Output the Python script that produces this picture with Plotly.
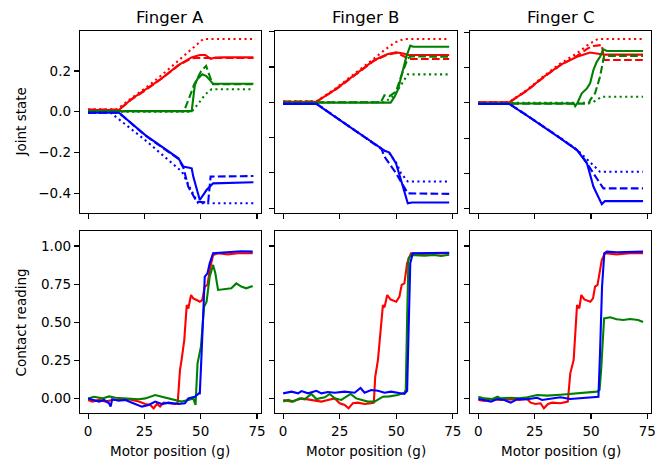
import plotly.graph_objects as go

# ---------------- Data ----------------
X_TICKS = [0, 25, 50, 75]
Y_TICKS_JOINT_A = [-0.4, -0.2, 0.0, 0.2]
Y_TICKS_JOINT_BC = [-0.6, -0.4, -0.2, 0.0, 0.2, 0.4]
Y_TICKS_CONTACT = [0.0, 0.25, 0.5, 0.75, 1.0]
TITLES = ["Finger A", "Finger B", "Finger C"]

# ---- Joint state, Finger A ----
A_red_solid = ([0, 13.7, 19, 25.4, 32.7, 40.1, 45.9, 49.6, 52, 54.5, 56.5, 60, 73.4],
               [0.008, 0.008, 0.06, 0.107, 0.164, 0.229, 0.267, 0.279, 0.279, 0.26, 0.266, 0.267, 0.267])
A_red_dashed = ([0, 13.7, 19, 25.4, 32.7, 40.1, 45.9, 48, 73.4],
                [0.01, 0.01, 0.058, 0.105, 0.163, 0.228, 0.262, 0.264, 0.264])
A_red_dotted = ([0, 13, 19, 25.4, 32.7, 40.1, 46.6, 51.1, 73.4],
                [0.012, 0.012, 0.065, 0.115, 0.18, 0.25, 0.31, 0.357, 0.357])
A_green_solid = ([0, 46, 47.4, 48.5, 50.7, 52.5, 55.5, 73.4],
                 [0.003, 0.003, 0.131, 0.16, 0.184, 0.175, 0.137, 0.137])
A_green_dashed = ([0, 42.6, 45.1, 47, 50.2, 52.4, 54.6, 55.5, 73.4],
                  [0.003, 0.003, 0.074, 0.131, 0.2, 0.225, 0.156, 0.135, 0.135])
A_green_dotted = ([0, 46, 49, 52, 54.8, 73.4],
                  [0.0, 0.0, 0.04, 0.085, 0.11, 0.11])
A_blue_solid = ([0, 13.7, 25.4, 32.7, 40.1, 42.3, 46, 46.7, 49.6, 52.6, 55.5, 73.4],
                [-0.005, -0.005, -0.115, -0.172, -0.229, -0.27, -0.278, -0.319, -0.434, -0.385, -0.352, -0.347])
A_blue_dashed = ([0, 13.7, 25.4, 32.7, 40.1, 42.3, 44.5, 48.2, 53.3, 54.4, 73.4],
                 [-0.005, -0.005, -0.117, -0.174, -0.232, -0.275, -0.369, -0.442, -0.447, -0.319, -0.316])
A_blue_dotted = ([0, 10.1, 25.4, 41.7, 45.5, 48.9, 73.4],
                 [-0.006, -0.006, -0.14, -0.295, -0.38, -0.45, -0.45])

# ---- Joint state, Finger B ----
B_red_solid = ([0, 14.7, 22.8, 31.6, 40.4, 46, 49.9, 53.6, 55.1, 73.4],
               [0.003, 0.003, 0.07, 0.155, 0.24, 0.272, 0.283, 0.275, 0.268, 0.268])
B_red_dashed = ([0, 14.7, 22.8, 31.6, 40.4, 46, 49.9, 53.6, 55.1, 73.4],
                [0.004, 0.004, 0.068, 0.152, 0.237, 0.27, 0.28, 0.26, 0.245, 0.245])
B_red_dotted = ([0, 14.7, 22.8, 31.6, 40.4, 44.8, 49.5, 53.6, 73.4],
                [0.005, 0.005, 0.075, 0.16, 0.25, 0.296, 0.34, 0.359, 0.359])
B_green_solid = ([0, 47.5, 49.2, 50.7, 52.5, 54.5, 56.2, 57.5, 73.4],
                 [-0.002, -0.002, 0.03, 0.07, 0.16, 0.26, 0.321, 0.315, 0.315])
B_green_dashed = ([0, 43.2, 44.8, 47, 49.9, 52.1, 55.1, 56.5, 73.4],
                  [0.0, 0.0, 0.04, 0.035, 0.06, 0.146, 0.249, 0.26, 0.258])
B_green_dotted = ([0, 44.8, 49.2, 52.5, 55.1, 73.4],
                  [0.0, 0.0, 0.04, 0.11, 0.158, 0.158])
B_blue_solid = ([0, 14.7, 22.8, 30.2, 37.5, 44.8, 47, 49.9, 52.1, 55.1, 57, 73.4],
                [-0.009, -0.009, -0.081, -0.147, -0.214, -0.274, -0.285, -0.346, -0.44, -0.572, -0.568, -0.568])
B_blue_dashed = ([0, 14.7, 22.8, 30.2, 37.5, 43.5, 44.8, 49.9, 55.1, 73.4],
                 [-0.008, -0.008, -0.08, -0.146, -0.213, -0.265, -0.308, -0.402, -0.516, -0.519])
B_blue_dotted = ([0, 14.7, 22.8, 30.2, 37.5, 44.8, 47, 49.9, 52.1, 55.1, 73.4],
                 [-0.008, -0.008, -0.08, -0.146, -0.213, -0.274, -0.29, -0.34, -0.402, -0.449, -0.449])

# ---- Joint state, Finger C ----
C_red_solid = ([0, 13.7, 21.8, 29.1, 36.4, 43.8, 49.6, 54, 56, 73.1],
               [0.002, 0.002, 0.072, 0.147, 0.214, 0.26, 0.284, 0.274, 0.272, 0.272])
C_red_dashed = ([0, 13.7, 21.8, 29.1, 36.4, 43.8, 48.9, 51.1, 54.8, 55.8, 73.1],
                [0.003, 0.003, 0.07, 0.145, 0.212, 0.265, 0.31, 0.321, 0.327, 0.242, 0.242])
C_red_dotted = ([0, 13.7, 21.8, 29.1, 36.4, 43.8, 48.9, 53.1, 73.1],
                [0.004, 0.004, 0.075, 0.152, 0.222, 0.28, 0.33, 0.361, 0.361])
C_green_solid = ([0, 42.4, 43, 44, 45.9, 48.2, 49.6, 51.1, 52.5, 54, 55.5, 57, 73.1],
                 [-0.004, -0.004, -0.019, 0.0, 0.053, 0.081, 0.11, 0.186, 0.23, 0.26, 0.302, 0.293, 0.293])
C_green_dashed = ([0, 48.9, 49.6, 51.8, 54, 55.8, 73.1],
                  [-0.005, -0.005, 0.015, 0.053, 0.147, 0.265, 0.265])
C_green_dotted = ([0, 50.5, 54.8, 73.1],
                  [0.0, 0.0, 0.034, 0.034])
C_blue_solid = ([0, 13.7, 21.8, 29.1, 36.4, 43.8, 48.2, 51.1, 54.8, 56.2, 73.1],
                [-0.007, -0.007, -0.075, -0.136, -0.202, -0.268, -0.343, -0.476, -0.574, -0.556, -0.557])
C_blue_dashed = ([0, 13.7, 21.8, 29.1, 36.4, 43.8, 46, 51.1, 55.5, 73.1],
                 [-0.006, -0.006, -0.074, -0.135, -0.2, -0.268, -0.3, -0.4, -0.485, -0.485])
C_blue_dotted = ([0, 13.7, 21.8, 29.1, 36.4, 43.8, 46.5, 51.1, 54, 73.1],
                 [-0.006, -0.006, -0.074, -0.135, -0.2, -0.266, -0.3, -0.353, -0.391, -0.391])

# ---- Contact reading ----
A_contact_red = ([0, 1.9, 4.8, 7.8, 10.7, 13.6, 18.1, 19.5, 22.5, 25.4, 27.6, 29.1, 30.5, 32, 33.5, 35.7, 38.6, 39.8,
                  40.8, 41.5, 42.7, 43.8, 44.5, 45.7, 46.7, 48.2, 49.6, 50.7, 51.8, 53, 54, 55.5, 57.7, 62.1, 66.5, 73.1],
                 [-0.008, -0.019, -0.008, -0.019, -0.008, -0.004, -0.002, -0.008, -0.019, -0.035, -0.041, -0.063, -0.035,
                  -0.052, -0.026, -0.03, -0.035, -0.026, 0.188, 0.253, 0.384, 0.613, 0.591, 0.679, 0.657, 0.646, 0.635,
                  0.646, 0.734, 0.745, 0.843, 0.941, 0.952, 0.945, 0.952, 0.952])
A_contact_green = ([0, 2.6, 6.3, 9.3, 12.2, 15.1, 19.5, 22.5, 25.4, 27.6, 29.8, 32.7, 35.7, 38.6, 41.5, 44.5, 46.7, 47.7,
                    48.6, 50.1, 51.5, 52.6, 54, 55.5, 56.5, 57.7, 60.6, 63.6, 65.8, 68, 70.2, 73.1],
                   [0.002, 0.013, 0.002, 0.015, 0.006, 0.002, -0.002, -0.004, 0.002, 0.015, 0.024, 0.013, 0.002, -0.008,
                    -0.019, -0.008, 0.002, -0.041, 0.232, 0.341, 0.602, 0.635, 0.799, 0.876, 0.821, 0.712, 0.716, 0.723,
                    0.755, 0.734, 0.723, 0.738])
A_contact_blue = ([0, 1.9, 4.8, 7.1, 9.3, 10, 10.7, 13.6, 16.6, 19.5, 23.9, 26.9, 29.8, 32.7, 35.7, 40.1, 43, 44.5, 47.4,
                   49.2, 49.6, 50.4, 51.3, 51.8, 53, 54, 55.5, 59.1, 63.6, 68, 73.1],
                  [0.002, -0.008, -0.019, -0.008, -0.03, -0.052, -0.004, -0.013, -0.008, -0.026, -0.052, -0.041, -0.019,
                   -0.035, -0.026, -0.035, -0.03, 0.002, 0.013, 0.035, 0.035, 0.297, 0.58, 0.799, 0.821, 0.887, 0.952,
                   0.956, 0.961, 0.965, 0.963])

B_contact_red = ([0, 3.7, 8.1, 12.5, 16.9, 19.8, 22.8, 25, 27.2, 28.9, 30.8, 33, 36, 38.9, 40.1, 40.7, 41.9, 44.1, 44.8,
                  46, 47.4, 50, 51.4, 52.4, 53.6, 54.8, 56.5, 60.9, 66.8, 73.4],
                 [-0.008, -0.019, 0.002, -0.008, -0.019, -0.008, 0.002, -0.03, -0.041, -0.063, -0.03, -0.026, -0.035,
                  -0.03, -0.026, 0.144, 0.253, 0.613, 0.598, 0.679, 0.65, 0.635, 0.668, 0.745, 0.755, 0.887, 0.952,
                  0.948, 0.952, 0.952])
B_contact_green = ([0, 2.2, 4.4, 7.3, 9.5, 12.5, 14.7, 18.4, 20.6, 22.8, 25.7, 29.8, 32.3, 35.2, 37.4, 40.4, 44.1, 47,
                    50.7, 53.6, 54.2, 54.8, 55.4, 56.5, 62.4, 66.8, 69.8, 73.4],
                   [-0.019, -0.008, -0.019, 0.002, -0.004, 0.031, -0.002, 0.009, 0.031, 0.002, -0.008, 0.031, 0.002,
                    -0.008, -0.019, -0.019, 0.013, 0.015, 0.024, 0.039, 0.057, 0.515, 0.919, 0.941, 0.937, 0.941,
                    0.934, 0.943])
B_contact_blue = ([0, 3.7, 6.6, 8.1, 11, 14.7, 16.9, 19.8, 22.8, 27.2, 31.6, 34.2, 36, 38.9, 41.9, 44.8, 47.7, 51.4,
                   53.6, 54.8, 55.7, 56.2, 57.3, 62.4, 66.8, 73.4],
                  [0.035, 0.046, 0.035, 0.05, 0.035, 0.052, 0.035, 0.044, 0.039, 0.046, 0.039, 0.07, 0.039, 0.057,
                   0.052, 0.039, 0.046, 0.039, 0.031, 0.052, 0.515, 0.887, 0.952, 0.952, 0.956, 0.956])

C_contact_red = ([0, 2.7, 5.6, 10, 14.4, 18.1, 21.7, 23.2, 25.4, 27.6, 29.1, 30.9, 32.8, 36.4, 39.7, 40.8, 42.3, 43.8,
                  44.8, 45.7, 47, 49.7, 50.9, 51.8, 52.9, 54.8, 56.2, 61.4, 67.3, 73.1],
                 [-0.008, -0.015, -0.002, -0.008, -0.004, -0.008, -0.002, -0.026, -0.035, -0.03, -0.063, -0.035, -0.026,
                  -0.03, -0.019, 0.166, 0.253, 0.613, 0.591, 0.679, 0.65, 0.635, 0.657, 0.734, 0.745, 0.909, 0.952,
                  0.945, 0.952, 0.952])
C_contact_green = ([0, 2.7, 6.3, 8.5, 10, 14.4, 18.1, 21.7, 26.1, 30.6, 36.4, 40.8, 45.2, 49.7, 52.6, 53.8, 54.5, 55.8,
                    58.5, 61.4, 64.3, 67.3, 70.9, 73.1],
                   [0.013, 0.002, -0.002, 0.013, 0.002, 0.006, 0.002, 0.009, 0.024, 0.02, 0.026, 0.031, 0.035, 0.039,
                    0.046, 0.057, 0.188, 0.526, 0.533, 0.52, 0.515, 0.522, 0.515, 0.502])
C_contact_blue = ([0, 2.7, 5.6, 8.5, 11.5, 14.4, 17.4, 21.7, 26.1, 28.3, 32, 36.4, 40.8, 45.2, 49.7, 53.3, 54, 54.9,
                   55.9, 57, 61.4, 67.3, 73.1],
                  [0.0, -0.008, -0.019, -0.002, -0.008, -0.026, -0.002, -0.004, 0.006, -0.008, 0.002, 0.009, -0.002,
                   0.002, 0.006, 0.013, 0.297, 0.734, 0.952, 0.963, 0.959, 0.963, 0.963])

# ---------------- Styling ----------------
COLORS = {"red": "#ff0000", "green": "#008000", "blue": "#0000ff"}
DASHES = {"solid": "solid", "dashed": "7.7px,3.3px", "dotted": "2.1px,3.4px"}
FONT = "DejaVu Sans, Liberation Sans, sans-serif"
W, H = 662, 462

joint_series = [
    [(A_red_solid, "red", "solid"), (A_red_dashed, "red", "dashed"), (A_red_dotted, "red", "dotted"),
     (A_green_solid, "green", "solid"), (A_green_dashed, "green", "dashed"), (A_green_dotted, "green", "dotted"),
     (A_blue_solid, "blue", "solid"), (A_blue_dashed, "blue", "dashed"), (A_blue_dotted, "blue", "dotted")],
    [(B_red_solid, "red", "solid"), (B_red_dashed, "red", "dashed"), (B_red_dotted, "red", "dotted"),
     (B_green_solid, "green", "solid"), (B_green_dashed, "green", "dashed"), (B_green_dotted, "green", "dotted"),
     (B_blue_solid, "blue", "solid"), (B_blue_dashed, "blue", "dashed"), (B_blue_dotted, "blue", "dotted")],
    [(C_red_solid, "red", "solid"), (C_red_dashed, "red", "dashed"), (C_red_dotted, "red", "dotted"),
     (C_green_solid, "green", "solid"), (C_green_dashed, "green", "dashed"), (C_green_dotted, "green", "dotted"),
     (C_blue_solid, "blue", "solid"), (C_blue_dashed, "blue", "dashed"), (C_blue_dotted, "blue", "dotted")],
]
contact_series = [
    [(A_contact_red, "red"), (A_contact_green, "green"), (A_contact_blue, "blue")],
    [(B_contact_red, "red"), (B_contact_green, "green"), (B_contact_blue, "blue")],
    [(C_contact_red, "red"), (C_contact_green, "green"), (C_contact_blue, "blue")],
]

# panel pixel boxes (left, right) and (top, bottom)
x_px = [(80.5, 262.7), (277.0, 460.0), (473.7, 656.0)]
top_row_px = (31.0, 213.3)
bot_row_px = (231.0, 413.3)

X_RANGE = [-3.65, 76.65]
Y_RANGE_JOINT = [[-0.4993, 0.3966], [-0.629, 0.404], [-0.626, 0.406]]
Y_RANGE_CONTACT = [-0.0956, 1.098]

fig = go.Figure()

def xdom(i):
    return [x_px[i][0] / W, x_px[i][1] / W]

def ydom(box):
    return [1 - box[1] / H, 1 - box[0] / H]

axis_common = dict(showline=True, linecolor="black", linewidth=1.1, mirror=True,
                   ticks="outside", ticklen=5, tickwidth=1.1, tickcolor="black",
                   showgrid=False, zeroline=False,
                   tickfont=dict(family=FONT, size=13.5, color="black"))

layout = {}
for col in range(3):
    for row in range(2):
        idx = row * 3 + col + 1
        xa = "xaxis" if idx == 1 else f"xaxis{idx}"
        ya = "yaxis" if idx == 1 else f"yaxis{idx}"
        xr = "x" if idx == 1 else f"x{idx}"
        yr = "y" if idx == 1 else f"y{idx}"
        layout[xa] = dict(axis_common, domain=xdom(col), anchor=yr, range=X_RANGE,
                          tickvals=X_TICKS, showticklabels=(row == 1))
        if row == 0:
            tv = Y_TICKS_JOINT_A if col == 0 else Y_TICKS_JOINT_BC
            layout[ya] = dict(axis_common, domain=ydom(top_row_px), anchor=xr,
                              range=Y_RANGE_JOINT[col], tickvals=tv, tickformat=".1f",
                              showticklabels=(col == 0))
            for (xs, ys), c, d in joint_series[col]:
                fig.add_trace(go.Scatter(x=xs, y=ys, mode="lines", xaxis=xr, yaxis=yr,
                                         line=dict(color=COLORS[c], width=2.1, dash=DASHES[d]),
                                         showlegend=False, hoverinfo="skip"))
        else:
            layout[ya] = dict(axis_common, domain=ydom(bot_row_px), anchor=xr,
                              range=Y_RANGE_CONTACT, tickvals=Y_TICKS_CONTACT, tickformat=".2f",
                              showticklabels=(col == 0))
            for (xs, ys), c in contact_series[col]:
                fig.add_trace(go.Scatter(x=xs, y=ys, mode="lines", xaxis=xr, yaxis=yr,
                                         line=dict(color=COLORS[c], width=2.1),
                                         showlegend=False, hoverinfo="skip"))

annotations = []
for col in range(3):
    cx = (x_px[col][0] + x_px[col][1]) / 2 / W
    annotations.append(dict(text=TITLES[col], x=cx, y=1 - 17.5 / H, xref="paper", yref="paper",
                            xanchor="center", yanchor="middle", showarrow=False,
                            font=dict(family=FONT, size=16.5, color="black")))
    annotations.append(dict(text="Motor position (g)", x=cx, y=1 - 451 / H, xref="paper", yref="paper",
                            xanchor="center", yanchor="middle", showarrow=False,
                            font=dict(family=FONT, size=13.5, color="black")))
annotations.append(dict(text="Joint state", x=21.5 / W, y=1 - (top_row_px[0] + top_row_px[1]) / 2 / H,
                        xref="paper", yref="paper", xanchor="center", yanchor="middle", textangle=-90,
                        showarrow=False, font=dict(family=FONT, size=13.5, color="black")))
annotations.append(dict(text="Contact reading", x=21.5 / W, y=1 - (bot_row_px[0] + bot_row_px[1]) / 2 / H,
                        xref="paper", yref="paper", xanchor="center", yanchor="middle", textangle=-90,
                        showarrow=False, font=dict(family=FONT, size=13.5, color="black")))

fig.update_layout(width=W, height=H, margin=dict(l=0, r=0, t=0, b=0),
                  paper_bgcolor="white", plot_bgcolor="white",
                  font=dict(family=FONT, color="black"),
                  annotations=annotations, **layout)

fig.write_html("out.html",
               config={"displayModeBar": False, "staticPlot": True},
               post_script="document.body.style.margin='0px';document.body.style.padding='0px';"
                           "document.body.style.overflow='hidden';")
